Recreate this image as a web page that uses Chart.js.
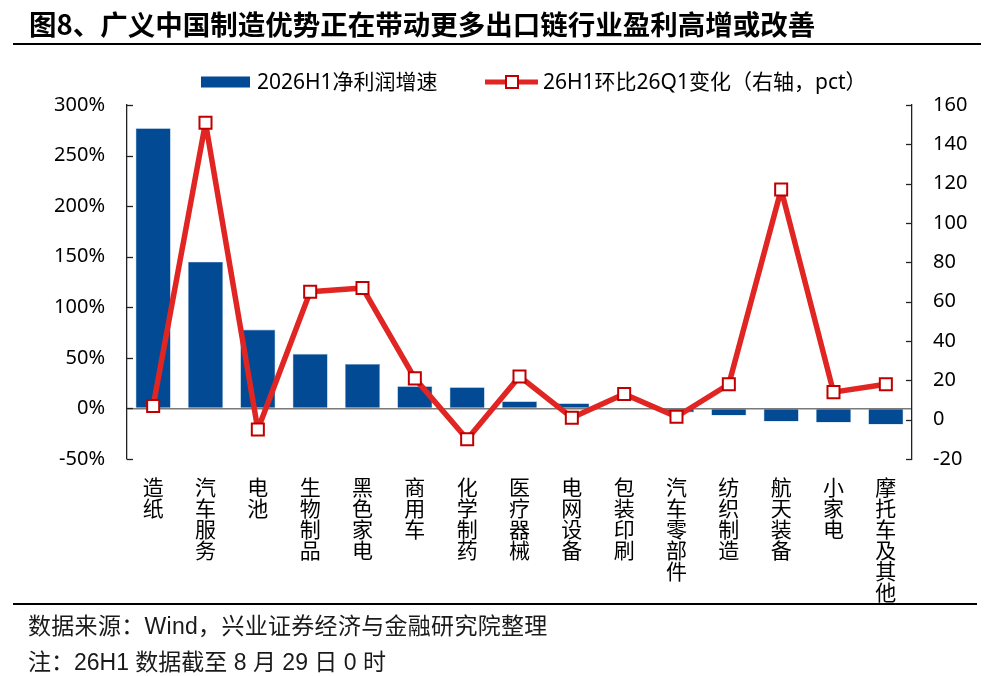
<!DOCTYPE html>
<html>
<head>
<meta charset="utf-8">
<script src="https://cdn.jsdelivr.net/npm/chart.js@4"></script>
<style>
  html, body { margin: 0; padding: 0; background: #fff; }
  #wrap { position: relative; width: 1002px; height: 676px; overflow: hidden; }
  #chart { position: absolute; left: 0; top: 0; }
  .title {
    position: absolute; left: 29px; top: 3px;
    font: bold 27.5px "Noto Sans CJK SC", sans-serif; color: #000; white-space: nowrap;
  }
  .rule { position: absolute; height: 1.5px; background: #000; }
  .note {
    position: absolute; left: 28px;
    font: 23px "Liberation Sans", "Noto Sans CJK SC", sans-serif; color: #1a1a1a;
    white-space: nowrap;
  }
</style>
</head>
<body>
<div id="wrap">
  <canvas id="chart" width="1002" height="676"></canvas>
  <div class="title">图8、广义中国制造优势正在带动更多出口链行业盈利高增或改善</div>
  <div class="rule" style="left:13px; top:43px; width:968px;"></div>
  <div class="rule" style="left:13px; top:603px; width:964px;"></div>
  <div class="note" style="top:607px; letter-spacing:0.3px;">数据来源：Wind，兴业证券经济与金融研究院整理</div>
  <div class="note" style="top:643px;">注：26H1 数据截至 8 月 29 日 0 时</div>
</div>
<script>
const categories = ['造纸', '汽车服务', '电池', '生物制品', '黑色家电', '商用车', '化学制药', '医疗器械',
  '电网设备', '包装印刷', '汽车零部件', '纺织制造', '航天装备', '小家电', '摩托车及其他']
// 2026H1 net profit growth, %
const profitGrowth = [277, 145, 78, 54, 44, 22, 21, 7, 5, -1, -4, -7, -13, -14, -16]
// 26H1 vs 26Q1 change, pct (right axis)
const changePct = [7, 151, -5, 65, 67, 21, -10, 22, 1, 13, 1.5, 18, 117, 14, 18]

const leftTicks = [-50, 0, 50, 100, 150, 200, 250, 300]
const rightTicks = [-20, 0, 20, 40, 60, 80, 100, 120, 140, 160]

const FONT = '"Noto Sans", "Noto Sans CJK SC", sans-serif'
Chart.defaults.font.family = FONT
Chart.defaults.color = '#000'

// small inward tick marks on both value axes
const innerTicks = {
  id: 'innerTicks',
  afterDraw(chart) {
    const { ctx } = chart
    ;['y', 'y1'].forEach((id) => {
      const s = chart.scales[id]
      const x0 = id === 'y' ? s.right : s.left
      const dir = id === 'y' ? 1 : -1
      ctx.save()
      ctx.strokeStyle = '#222'
      ctx.lineWidth = 1.3
      s.ticks.forEach((t, i) => {
        const py = Math.round(s.getPixelForTick(i)) + 0.5
        ctx.beginPath()
        ctx.moveTo(x0, py)
        ctx.lineTo(x0 + dir * 6, py)
        ctx.stroke()
      })
      ctx.restore()
    })
  },
}

// legend: bar box + line with square marker
const comboLegend = {
  id: 'comboLegend',
  afterDraw(chart) {
    const { ctx } = chart
    const line = chart.data.datasets[0]
    const bar = chart.data.datasets[1]
    const y = 82
    ctx.save()
    ctx.font = '21px ' + FONT
    ctx.textBaseline = 'middle'
    ctx.fillStyle = bar.backgroundColor
    ctx.fillRect(201, y - 5.5, 49, 11)
    ctx.fillStyle = '#000'
    ctx.fillText(bar.label, 257, y + 1)

    ctx.strokeStyle = line.borderColor
    ctx.lineWidth = 5
    ctx.beginPath()
    ctx.moveTo(485, y)
    ctx.lineTo(538, y)
    ctx.stroke()
    ctx.fillStyle = '#fff'
    ctx.strokeStyle = line.pointBorderColor
    ctx.lineWidth = 2
    ctx.fillRect(506, y - 6, 12, 12)
    ctx.strokeRect(506, y - 6, 12, 12)
    ctx.fillStyle = '#000'
    ctx.fillText(line.label, 543, y + 1)
    ctx.restore()
  },
}

new Chart(document.getElementById('chart'), {
  type: 'bar',
  data: {
    labels: categories.map((c) => c.split('')),
    datasets: [
      {
        type: 'line',
        label: '26H1环比26Q1变化（右轴，pct）',
        data: changePct,
        yAxisID: 'y1',
        borderColor: '#E02522',
        borderWidth: 5.5,
        borderJoinStyle: 'round',
        tension: 0,
        pointStyle: 'rect',
        pointRadius: 8.5,
        pointHoverRadius: 8.5,
        pointBackgroundColor: '#fff',
        pointBorderColor: '#C00000',
        pointBorderWidth: 2,
        order: 0,
      },
      {
        label: '2026H1净利润增速',
        data: profitGrowth,
        yAxisID: 'y',
        backgroundColor: '#024B94',
        borderColor: '#8FB0D6',
        borderWidth: 0.6,
        categoryPercentage: 1,
        barPercentage: 0.67,
        order: 1,
      },
    ],
  },
  options: {
    responsive: false,
    animation: false,
    layout: { padding: { top: 105, left: 0, right: 0, bottom: 0 } },
    plugins: {
      legend: { display: false },
      tooltip: { enabled: false },
    },
    scales: {
      x: {
        grid: { display: false, drawTicks: false },
        border: { display: false },
        ticks: {
          autoSkip: false,
          maxRotation: 0,
          minRotation: 0,
          padding: 20,
          font: { size: 21, lineHeight: 1.0 },
        },
        afterFit: (s) => { s.height = 217 },
      },
      y: {
        position: 'left',
        min: -50,
        max: 300,
        afterBuildTicks: (s) => { s.ticks = leftTicks.map((v) => ({ value: v })) },
        ticks: {
          padding: 22,
          font: { size: 20 },
          callback: (v) => v + '%',
        },
        grid: {
          drawTicks: false,
          color: (c) => (c.tick && c.tick.value === 0 ? '#7a7a7a' : 'transparent'),
          lineWidth: 1.6,
        },
        border: { display: true, color: '#222', width: 1.3 },
        afterFit: (s) => { s.width = 127 },
      },
      y1: {
        position: 'right',
        min: -20,
        max: 160,
        afterBuildTicks: (s) => { s.ticks = rightTicks.map((v) => ({ value: v })) },
        ticks: { padding: 21, font: { size: 20 } },
        grid: { display: false, drawTicks: false },
        border: { display: true, color: '#222', width: 1.3 },
        afterFit: (s) => { s.width = 90 },
      },
    },
  },
  plugins: [innerTicks, comboLegend],
})
</script>
</body>
</html>
